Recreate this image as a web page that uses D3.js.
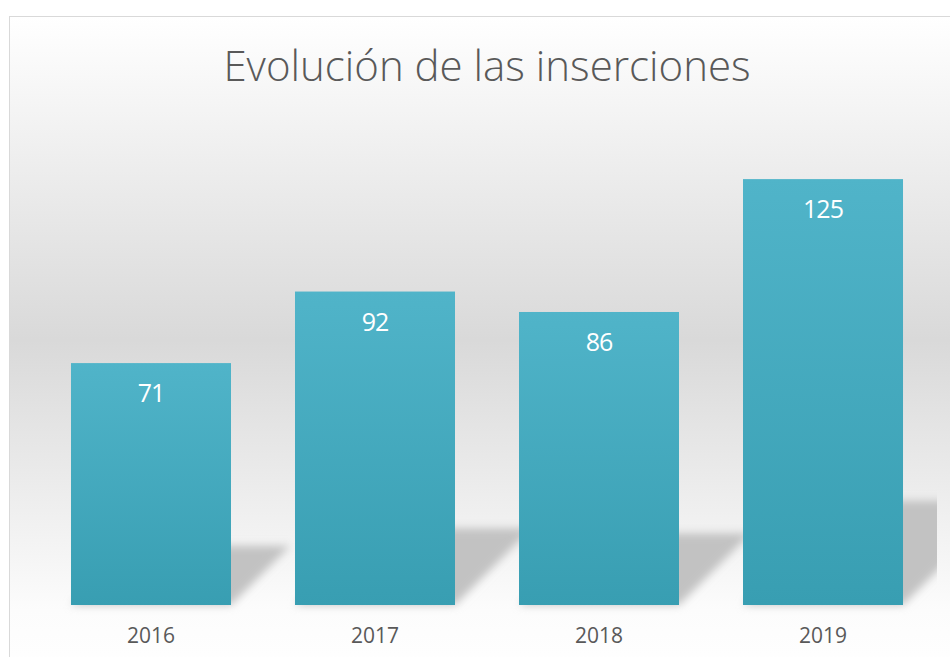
<!DOCTYPE html>
<html>
<head>
<meta charset="utf-8">
<script src="https://cdn.jsdelivr.net/npm/d3@7"></script>
<style>
  body { margin: 0; background: #fff; }
  text { font-family: "Open Sans", "Noto Sans", sans-serif; }
</style>
</head>
<body>
<div id="chart"></div>
<script>
// data
const years = ["2016", "2017", "2018", "2019"];
const insertions = [71, 92, 86, 125];
const chartTitle = "Evolución de las inserciones";

let width = 950,
  height = 657,
  margin = ({ top: 128, right: 15, bottom: 52, left: 39 });

const svg = d3.select("#chart")
  .append("svg")
  .attr("width", width)
  .attr("height", height)
  .attr("viewBox", [0, 0, width, height]);

const defs = svg.append("defs");

// background: white -> grey -> white
let bg = defs.append("linearGradient")
  .attr("id", "bg")
  .attr("x1", 0).attr("y1", 0).attr("x2", 0).attr("y2", 1);
bg.append("stop").attr("offset", "0%").attr("stop-color", "#ffffff");
bg.append("stop").attr("offset", "49%").attr("stop-color", "#d9d9d9");
bg.append("stop").attr("offset", "90%").attr("stop-color", "#fcfcfc");
bg.append("stop").attr("offset", "100%").attr("stop-color", "#ffffff");

let barGrad = defs.append("linearGradient")
  .attr("id", "barGrad")
  .attr("x1", 0).attr("y1", 0).attr("x2", 0).attr("y2", 1);
barGrad.append("stop").attr("offset", "0%").attr("stop-color", "#50b4c9");
barGrad.append("stop").attr("offset", "100%").attr("stop-color", "#389eb2");

defs.append("filter")
  .attr("id", "blur")
  .attr("x", "-20%").attr("y", "-20%").attr("width", "140%").attr("height", "140%")
  .append("feGaussianBlur")
  .attr("stdDeviation", 4);

defs.append("clipPath")
  .attr("id", "plotClip")
  .append("rect")
  .attr("x", 10).attr("y", 17)
  .attr("width", 927).attr("height", 600);

// chart area with border
svg.append("rect")
  .attr("x", 9.5)
  .attr("y", 16.5)
  .attr("width", 960)
  .attr("height", 660)
  .attr("fill", "url(#bg)")
  .attr("stroke", "#d9d9d9")
  .attr("stroke-width", 1);

let x = d3.scaleBand()
  .domain(years)
  .range([margin.left, width - margin.right])
  .paddingInner(0.2857)
  .paddingOuter(0.1428);

let y = d3.scaleLinear()
  .domain([0, 140])
  .range([height - margin.bottom, margin.top]);

// perspective shadows behind the bars
svg.append("g")
  .attr("clip-path", "url(#plotClip)")
  .selectAll("polygon")
  .data(years)
  .join("polygon")
  .attr("fill", "#c2c2c2")
  .attr("filter", "url(#blur)")
  .attr("points", (d, i) => {
    let x0 = x(d), x1 = x(d) + x.bandwidth();
    let base = y(0);
    let hs = (y(0) - y(insertions[i])) * 0.245;
    return [[x0, base], [x1, base], [x1 + hs, base - hs], [x0 + hs, base - hs]].join(" ");
  });

// bars
svg.append("g")
  .selectAll("rect")
  .data(years)
  .join("rect")
  .attr("x", d => x(d))
  .attr("y", (d, i) => y(insertions[i]))
  .attr("width", x.bandwidth())
  .attr("height", (d, i) => y(0) - y(insertions[i]))
  .attr("fill", "url(#barGrad)");

// value labels inside the bars
svg.append("g")
  .selectAll("text")
  .data(years)
  .join("text")
  .attr("x", d => x(d) + x.bandwidth() / 2)
  .attr("y", (d, i) => y(insertions[i]) + 39)
  .attr("text-anchor", "middle")
  .attr("fill", "#ffffff")
  .attr("font-size", "25px")
  .attr("letter-spacing", "-1px")
  .text((d, i) => insertions[i]);

// x axis labels
svg.append("g")
  .attr("transform", `translate(0,${height - margin.bottom})`)
  .call(d3.axisBottom(x).tickSize(0).tickPadding(23))
  .call(g => g.select(".domain").remove())
  .selectAll("text")
  .attr("fill", "#595959")
  .attr("font-size", "21px")
  .attr("font-family", "\"Open Sans\", sans-serif");

svg.append("text")
  .attr("x", 487)
  .attr("y", 81)
  .attr("text-anchor", "middle")
  .attr("fill", "#595959")
  .attr("font-size", "42px")
  .attr("font-weight", 300)
  .text(chartTitle);
</script>
</body>
</html>
